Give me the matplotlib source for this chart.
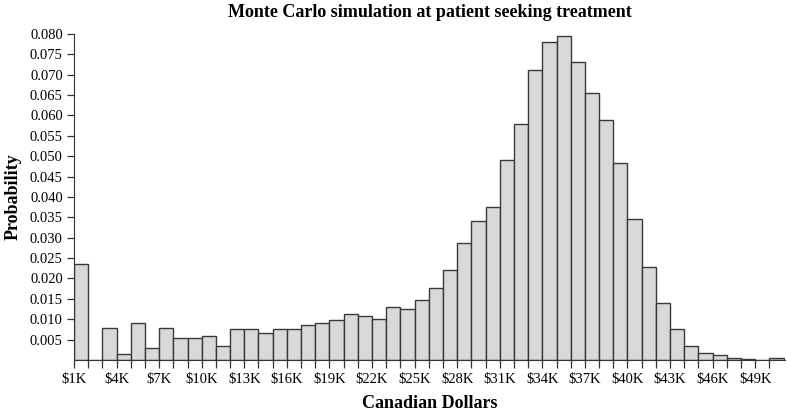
import matplotlib
matplotlib.use("Agg")
import matplotlib.pyplot as plt
import numpy as np

# bins are 1K wide, starting at $1K
bin_start_k = list(range(1, 51))
probability = [
    0.0235, 0.0, 0.0078, 0.0015, 0.0090, 0.0029, 0.0078, 0.0053, 0.0053, 0.0058,
    0.0034, 0.0075, 0.0075, 0.0067, 0.0077, 0.0075, 0.0087, 0.0092, 0.0097, 0.0112,
    0.0107, 0.0101, 0.0130, 0.0124, 0.0148, 0.0176, 0.0220, 0.0286, 0.0341, 0.0375,
    0.0490, 0.0578, 0.0711, 0.0779, 0.0794, 0.0732, 0.0655, 0.0588, 0.0484, 0.0346,
    0.0229, 0.0139, 0.0075, 0.0034, 0.0017, 0.0013, 0.0006, 0.0003, 0.0, 0.0004,
]
xtick_k = list(range(1, 50, 3))
xtick_labels = [f"${k}K" for k in xtick_k]
ytick_vals = [round(0.005 * i, 3) for i in range(1, 17)]

plt.rcParams['font.family'] = ['Liberation Serif', 'DejaVu Serif']

fig = plt.figure(figsize=(7.87, 4.15), dpi=100)
ax = fig.add_axes([0.094, 0.1325, 0.9035, 0.786])

ax.bar(bin_start_k, probability, width=1.0, align='edge',
       color='#d9d9d9', edgecolor='#3a3a3a', linewidth=1.0)

ax.set_xlim(1, 51.1)
ax.set_ylim(0, 0.080)

ax.set_xticks(range(1, 51), minor=True)
ax.set_xticks(xtick_k)
ax.set_xticklabels(xtick_labels, fontsize=10.5)
ax.tick_params(axis='x', which='both', length=6, width=0.9, color='#333333', pad=3)

ax.set_yticks(ytick_vals)
ax.set_yticklabels([f"{v:.3f}" for v in ytick_vals], fontsize=10.5)
ax.tick_params(axis='y', length=5, width=0.9, color='#333333', pad=3)

for side in ['top', 'right']:
    ax.spines[side].set_visible(False)
ax.spines['left'].set_color('#333333')
ax.spines['bottom'].set_color('#333333')

ax.set_title('Monte Carlo simulation at patient seeking treatment',
             fontsize=13, fontweight='bold', pad=12)
ax.set_xlabel('Canadian Dollars', fontsize=13, fontweight='bold', labelpad=7)
ax.set_ylabel('Probability', fontsize=13, fontweight='bold', labelpad=6)

fig.savefig('out.png', dpi=100)
